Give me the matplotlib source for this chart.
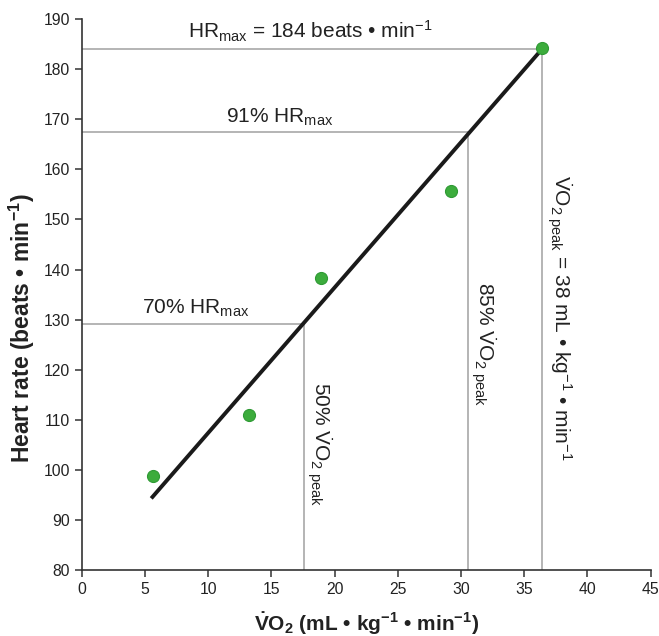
import matplotlib
matplotlib.use("Agg")
import matplotlib.pyplot as plt

plt.rcParams['font.family'] = ['Liberation Sans', 'DejaVu Sans']
plt.rcParams['mathtext.fontset'] = 'custom'
plt.rcParams['mathtext.rm'] = 'Liberation Sans'
plt.rcParams['mathtext.it'] = 'Liberation Sans'
plt.rcParams['mathtext.bf'] = 'Liberation Sans:bold'

# Measured exercise-test points
vo2 = [5.65, 13.2, 18.9, 29.2, 36.4]
hr = [98.8, 111.0, 138.3, 155.6, 184.2]

# Fitted HR–VO2 line end points
fit_vo2 = [5.5, 36.4]
fit_hr = [94.3, 184.0]

# Reference intensities
hr_max = 184
hr_91 = 167.4
hr_70 = 129.2
vo2_peak_x = 36.4
vo2_85 = 30.57
vo2_50 = 17.55

xticks = list(range(0, 46, 5))
yticks = list(range(80, 191, 10))

fig = plt.figure(figsize=(6.59, 6.36), dpi=100)
ax = fig.add_axes([0.124, 0.1038, 0.8632, 0.866])

ref = dict(color='#a0a0a0', lw=1.1, zorder=1)
ax.plot([0, vo2_peak_x], [hr_max, hr_max], **ref)
ax.plot([vo2_peak_x, vo2_peak_x], [80, hr_max], **ref)
ax.plot([0, vo2_85], [hr_91, hr_91], **ref)
ax.plot([vo2_85, vo2_85], [80, hr_91], **ref)
ax.plot([0, vo2_50], [hr_70, hr_70], **ref)
ax.plot([vo2_50, vo2_50], [80, hr_70], **ref)

ax.plot(fit_vo2, fit_hr, color='#1a1a1a', lw=2.8, solid_capstyle='butt', zorder=2)
ax.scatter(vo2, hr, s=75, color='#3cac3c', edgecolor='#2f9a35', linewidth=0.8, zorder=3)

ax.set_xlim(0, 45)
ax.set_ylim(80, 190)
ax.set_xticks(xticks)
ax.set_yticks(yticks)
for s in ['top', 'right']:
    ax.spines[s].set_visible(False)
for s in ['left', 'bottom']:
    ax.spines[s].set_color('#333333')
    ax.spines[s].set_linewidth(1.2)
ax.tick_params(direction='out', length=5, width=1.1, color='#333333',
               labelsize=11.3, labelcolor='#222222')

fig.text(0.0326, 0.4843, r'Heart rate (beats • min$^{\mathbf{-1}}$)', fontsize=16.5,
         fontweight='bold', color='#222222', rotation=90, ha='center', va='center')
ax.set_xlabel(r'$\mathbf{\dot{V}O_2}$ (mL • kg$^{\mathbf{-1}}$ • min$^{\mathbf{-1}}$)',
              fontsize=15, fontweight='bold', color='#222222', labelpad=10)

tk = dict(fontsize=15, color='#222222', ha='center', va='center')
ax.text(18.1, 187.6, r'HR$_{\mathrm{max}}$ = 184 beats • min$^{-1}$', **tk)
ax.text(15.7, 170.3, r'91% HR$_{\mathrm{max}}$', **tk)
ax.text(9.0, 132.2, r'70% HR$_{\mathrm{max}}$', **tk)
ax.text(18.75, 105.1, r'50% $\dot{V}$O$_{2\ \mathrm{peak}}$', rotation=-90, **tk)
ax.text(31.75, 125.1, r'85% $\dot{V}$O$_{2\ \mathrm{peak}}$', rotation=-90, **tk)
ax.text(37.8, 130.4, r'$\dot{V}$O$_{2\ \mathrm{peak}}$ = 38 mL • kg$^{-1}$ • min$^{-1}$',
        rotation=-90, **tk)

fig.savefig('out.png', dpi=100)
